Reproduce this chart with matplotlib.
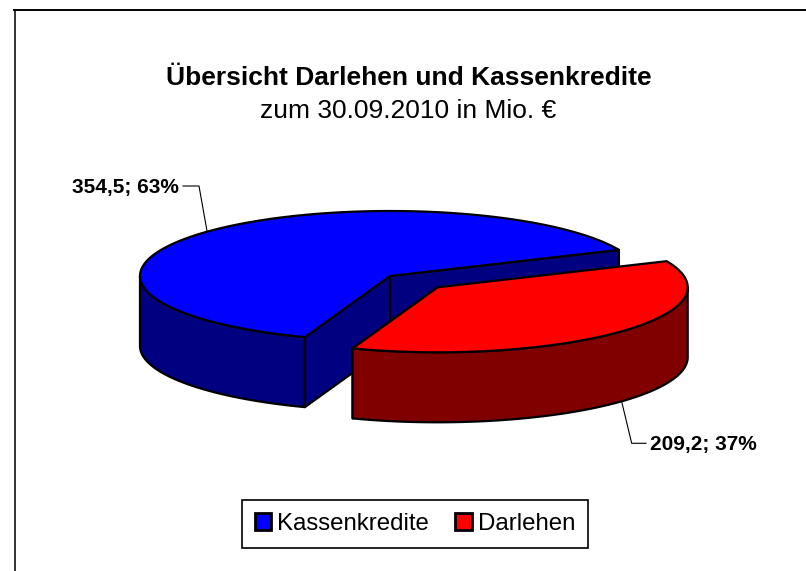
#!/usr/bin/env python3
"""Exploded pseudo-3D pie: Darlehen und Kassenkredite, 30.09.2010."""
import numpy as np
import matplotlib
matplotlib.use("Agg")
import matplotlib.pyplot as plt
from matplotlib.patches import Patch, Polygon

plt.rcParams["font.family"] = ["Liberation Sans", "DejaVu Sans"]

categories = ["Kassenkredite", "Darlehen"]
values = [354.5, 209.2]
percent_labels = ["354,5; 63%", "209,2; 37%"]
top_colors = ["#0000ff", "#ff0000"]
side_colors = ["#000080", "#800000"]

W, H = 806, 571
START = 23.7               # ellipse angle of the first slice edge
RX, RY, DEPTH = 250, 65, 70
CENTER = np.array([390.0, 276.0])
RED_CENTER = np.array([437.7, 287.3])
LW = 1.6


def rim(c, a0, a1, dy=0):
    t = np.radians(np.linspace(a0, a1, 200))
    return np.column_stack([c[0] + RX * np.cos(t), c[1] - RY * np.sin(t) + dy])


def poly(ax, pts, color, z):
    ax.add_patch(Polygon(pts, closed=True, fc=color, ec="black", lw=LW, joinstyle="round", zorder=z))


def side_wall(ax, c, a0, a1, color, z):
    poly(ax, np.vstack([rim(c, a0, a1), rim(c, a1, a0, DEPTH)]), color, z)


def cut_wall(ax, c, a, color, z):
    p = rim(c, a, a)[0]
    poly(ax, [c, p, p + [0, DEPTH], c + [0, DEPTH]], color, z)


fig = plt.figure(figsize=(W / 100, H / 100), dpi=100)
ax = fig.add_axes([0, 0, 1, 1])
ax.set_xlim(0, W)
ax.set_ylim(H, 0)
ax.axis("off")

# chart frame: only left and top edges are inside the crop
ax.plot([14.5, 14.5], [H, 9.5], color="#333333", lw=1.4, zorder=1)
ax.plot([14, W], [9.5, 9.5], color="black", lw=1.4, zorder=1)

span = np.array(values) / sum(values) * 360
a_blue_end = START + span[0]
a_red_end = a_blue_end + span[1]

# back to front: blue walls, blue top, red wall, red top
cut_wall(ax, CENTER, START, side_colors[0], 2)
cut_wall(ax, CENTER, a_blue_end, side_colors[0], 2)
side_wall(ax, CENTER, 180, a_blue_end, side_colors[0], 3)
poly(ax, np.vstack([[CENTER], rim(CENTER, START, a_blue_end)]), top_colors[0], 4)

cut_wall(ax, RED_CENTER, a_blue_end, side_colors[1], 5)
side_wall(ax, RED_CENTER, a_blue_end, 360, side_colors[1], 6)
poly(ax, np.vstack([[RED_CENTER], rim(RED_CENTER, a_blue_end, a_red_end)]), top_colors[1], 7)

ax.text(409, 85, "Übersicht Darlehen und Kassenkredite", ha="center", va="baseline",
        fontsize=19, fontweight="bold")
ax.text(408, 118, "zum 30.09.2010 in Mio. €", ha="center", va="baseline", fontsize=19)

# data labels with leader lines
ax.text(179, 193, percent_labels[0], ha="right", va="baseline", fontsize=15, fontweight="bold")
ax.plot([183, 199, 207], [186, 186, 231], color="black", lw=0.8, zorder=8)
ax.text(649.5, 450, percent_labels[1], ha="left", va="baseline", fontsize=15, fontweight="bold")
ax.plot([621.7, 631.7, 646], [401.7, 443.3, 443.3], color="black", lw=0.8, zorder=8)

handles = [Patch(fc=c, ec="black", lw=2, label=n) for c, n in zip(top_colors, categories)]
leg = ax.legend(handles=handles, loc="center", bbox_to_anchor=(415, 524),
                bbox_transform=ax.transData, ncol=2, frameon=True, fancybox=False,
                framealpha=1, edgecolor="black", fontsize=17.3, handlelength=0.68,
                handleheight=0.68, handletextpad=0.25, columnspacing=1.1, borderpad=0.55)
leg.get_frame().set_linewidth(1.2)

fig.savefig("out.png", dpi=100)
